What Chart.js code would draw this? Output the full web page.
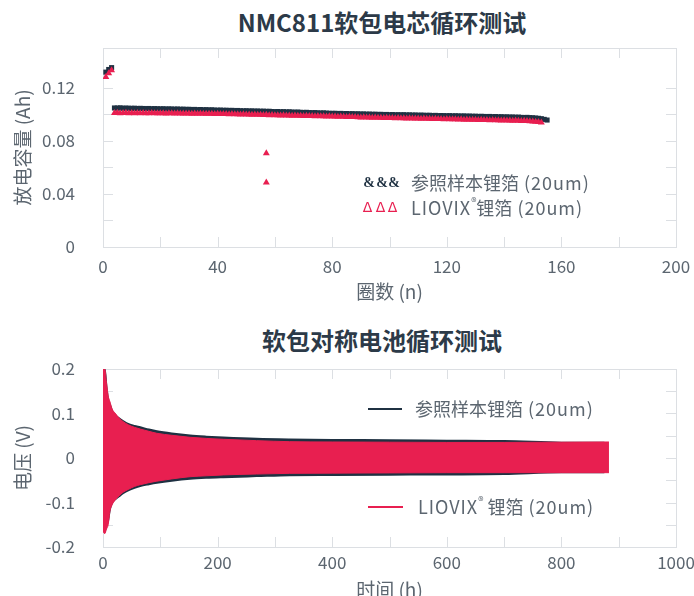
<!DOCTYPE html>
<html>
<head>
<meta charset="utf-8">
<title>NMC811软包电芯循环测试</title>
<script src="https://cdn.jsdelivr.net/npm/chart.js@4"></script>
<style>
  body { margin: 0; background: #fff; width: 694px; height: 596px; overflow: hidden; position: relative; font-family: "Noto Sans CJK SC", sans-serif; }
  .title { position: absolute; left: 182px; width: 400px; text-align: center; font-weight: 700; font-size: 24px; line-height: 30px; color: #2c3a48; }
  canvas { position: absolute; left: 0; }
</style>
</head>
<body>
<div class="title" style="top:7px">NMC811软包电芯循环测试</div>
<div class="title" style="top:325px">软包对称电池循环测试</div>
<canvas id="capChart" width="694" height="305" style="top:0"></canvas>
<canvas id="voltChart" width="694" height="303" style="top:300px"></canvas>
<script>
// ---- top chart: discharge capacity per cycle ----
const formationCycles = [1, 2, 3];
const refFormation = [0.1318, 0.1338, 0.1352];
const liovixFormation = [0.1282, 0.1310, 0.1332];

// values in 0.1 mAh, from cycle 4 on
const refFirstCycle = 4;
const refCapacity = [
  1048,1047,1049,1046,1047,1046,1045,1046,1044,1045,
  1044,1043,1044,1042,1043,1042,1041,1042,1040,1041,
  1040,1039,1040,1038,1039,1037,1038,1036,1037,1035,
  1036,1034,1035,1033,1034,1032,1031,1032,1030,1031,
  1029,1030,1028,1029,1027,1026,1027,1025,1026,1024,
  1025,1023,1024,1022,1023,1021,1020,1021,1019,1020,
  1018,1019,1017,1016,1017,1015,1014,1015,1013,1012,
  1013,1011,1010,1011,1009,1008,1007,1008,1006,1007,
  1005,1006,1004,1005,1003,1004,1002,1003,1001,1002,
  1000,1001,999,1000,998,999,997,998,996,997,
  996,997,995,996,994,995,993,994,993,992,
  993,991,992,990,991,990,989,990,988,989,
  988,987,988,986,987,985,986,984,985,984,
  983,984,982,983,981,982,980,981,979,980,
  978,979,977,976,977,975,974,972,970,967,
  962,957
];
const liovixFirstCycle = 4;
const liovixCapacity = [
  1010,1011,1009,1010,1011,1009,1010,1008,1010,1009,
  1010,1008,1009,1010,1008,1009,1008,1009,1007,1008,
  1008,1007,1008,1006,1007,1006,1007,1005,1006,1005,
  1006,1004,1005,1004,1005,1003,1004,1003,1002,1003,
  1001,1002,1000,1001,999,1000,998,999,997,998,
  996,997,995,996,994,995,993,994,992,993,
  991,992,990,991,989,990,988,989,987,988,
  986,987,985,986,984,985,983,984,982,983,
  981,980,981,979,980,978,977,978,976,977,
  975,976,974,975,973,974,972,973,971,972,
  970,971,969,970,968,969,968,967,968,966,
  967,965,966,964,965,963,964,963,962,963,
  961,962,960,961,959,960,959,958,959,957,
  958,956,957,955,956,954,955,953,954,952,
  953,951,950,951,949,948,946,945,942,939
];
const outlierCycles = [57, 57];
const outlierCapacity = [0.0707, 0.0486];

// ---- bottom chart: symmetric cell voltage envelope ----
const refTime = [0,3,6,9,12,16,21,28,35,45,55,65,80,94,120,152,180,210,268,326,400,500,600,700,800,875];
const refUpper = [0.19,0.2,0.16,0.13,0.12,0.105,0.097,0.089,0.083,0.076,0.072,0.069,0.064,0.06,0.055,0.0505,0.048,0.046,0.043,0.0415,0.0405,0.04,0.039,0.038,0.0345,0.034];
const refLower = [-0.16,-0.165,-0.15,-0.14,-0.115,-0.1,-0.093,-0.086,-0.079,-0.072,-0.067,-0.063,-0.059,-0.0557,-0.051,-0.0467,-0.0445,-0.043,-0.0407,-0.0385,-0.038,-0.0375,-0.037,-0.036,-0.032,-0.032];
const liovixTime = [0,3,6,9,12,16,21,28,35,45,55,65,80,94,120,152,180,210,268,326,400,500,600,700,800,883];
const liovixUpper = [0.2,0.2,0.17,0.14,0.127,0.11,0.101,0.09,0.082,0.074,0.069,0.065,0.06,0.0555,0.051,0.0465,0.044,0.042,0.039,0.0367,0.036,0.0355,0.035,0.035,0.0355,0.036];
const liovixLower = [-0.165,-0.17,-0.16,-0.15,-0.12,-0.105,-0.095,-0.085,-0.077,-0.07,-0.064,-0.06,-0.0555,-0.052,-0.047,-0.042,-0.04,-0.038,-0.036,-0.0345,-0.034,-0.0335,-0.033,-0.033,-0.033,-0.033];

const DARK = '#1f3142';
const RED = '#e81f50';
const TEXT = '#5c6670';
const FRAME = '#dcdfe3';
const FONT = '"Noto Sans CJK SC", sans-serif';

function pts(xs, ys) { return xs.map((x, i) => ({x: x, y: ys[i]})); }

// box frame with inward ticks on all sides
const boxPlugin = {
  id: 'box',
  beforeDatasetsDraw(chart) {
    const {ctx, chartArea: a, scales: {x, y}} = chart;
    const len = 10;
    ctx.save();
    ctx.strokeStyle = FRAME;
    ctx.lineWidth = 1;
    ctx.strokeRect(a.left + 0.5, a.top + 0.5, a.right - a.left, a.bottom - a.top);
    ctx.beginPath();
    x.ticks.forEach(t => {
      if (t.value <= x.min || t.value >= x.max) return;
      const px = Math.round(x.getPixelForValue(t.value)) + 0.5;
      ctx.moveTo(px, a.bottom); ctx.lineTo(px, a.bottom - len);
      ctx.moveTo(px, a.top); ctx.lineTo(px, a.top + len);
    });
    y.ticks.forEach(t => {
      if (t.value <= y.min || t.value >= y.max) return;
      const py = Math.round(y.getPixelForValue(t.value)) + 0.5;
      ctx.moveTo(a.left, py); ctx.lineTo(a.left + len, py);
      ctx.moveTo(a.right, py); ctx.lineTo(a.right - len, py);
    });
    ctx.stroke();
    ctx.restore();
  }
};

// legend drawn as text rows
function textLegend(rows) {
  return {
    id: 'textLegend',
    afterDraw(chart) {
      const ctx = chart.ctx;
      ctx.save();
      ctx.textBaseline = 'middle';
      rows.forEach(r => {
        if (r.line) {
          ctx.strokeStyle = r.color;
          ctx.lineWidth = 2;
          ctx.beginPath();
          ctx.moveTo(r.line[0], r.y);
          ctx.lineTo(r.line[1], r.y);
          ctx.stroke();
        }
        if (r.marks) {
          ctx.fillStyle = r.color;
          ctx.font = r.markFont;
          ctx.textAlign = 'center';
          r.marks.forEach(mx => ctx.fillText(r.mark, mx, r.y));
        }
        ctx.textAlign = 'left';
        ctx.fillStyle = TEXT;
        let x = r.x;
        r.parts.forEach(p => {
          ctx.font = (p.sup ? '11px ' : '18px ') + FONT;
          ctx.letterSpacing = p.wide ? '1px' : '0px';
          ctx.fillText(p.t, x, r.y + (p.sup ? -6 : 0));
          x += ctx.measureText(p.t).width;
        });
      });
      ctx.restore();
    }
  };
}

function xAxis(max, step, labelStep, title, height, pad) {
  return {
    type: 'linear', min: 0, max: max,
    grid: {display: false}, border: {display: false},
    ticks: {
      stepSize: step, color: TEXT, padding: pad, maxRotation: 0, autoSkip: false,
      font: {family: FONT, size: 17},
      callback: v => (Math.round(v) % labelStep === 0 ? String(v) : '')
    },
    title: {display: true, text: title, color: TEXT, font: {family: FONT, size: 19}, padding: {top: 0, bottom: 2}},
    afterFit: s => { s.height = height; s.paddingRight = 0; s.paddingLeft = 0; }
  };
}

function yAxis(min, max, step, labelEvery, title) {
  return {
    min: min, max: max,
    grid: {display: false}, border: {display: false},
    ticks: {
      stepSize: step, color: TEXT, padding: 20, autoSkip: false,
      font: {family: FONT, size: 17},
      callback: v => (Math.round(v * 100) % labelEvery === 0 ? String(+v.toFixed(2)) : '')
    },
    title: {display: true, text: title, color: TEXT, font: {family: FONT, size: 19}, padding: {top: 11, bottom: 0}},
    afterFit: s => { s.width = 103; }
  };
}

const refPoints = pts(formationCycles, refFormation)
  .concat(refCapacity.map((v, i) => ({x: refFirstCycle + i, y: v / 10000})));
const liovixPoints = pts(formationCycles, liovixFormation)
  .concat(liovixCapacity.map((v, i) => ({x: liovixFirstCycle + i, y: v / 10000})))
  .concat(pts(outlierCycles, outlierCapacity));

new Chart(document.getElementById('capChart'), {
  type: 'scatter',
  data: {
    datasets: [{
      label: 'LIOVIX®锂箔 (20um)',
      data: liovixPoints,
      pointStyle: 'triangle', pointRadius: 4, borderWidth: 0,
      backgroundColor: RED, order: 0
    }, {
      label: '参照样本锂箔 (20um)',
      data: refPoints,
      pointStyle: 'rect', pointRadius: 3.6, borderWidth: 0,
      backgroundColor: DARK, order: 1
    }]
  },
  options: {
    responsive: false, animation: false,
    layout: {padding: {top: 48, right: 18, left: 0, bottom: 0}},
    plugins: {legend: {display: false}, tooltip: {enabled: false}},
    scales: {
      x: xAxis(200, 20, 40, '圈数 (n)', 58, 1),
      y: yAxis(0, 0.15, 0.02, 4, '放电容量 (Ah)')
    }
  },
  plugins: [boxPlugin, textLegend([
    {y: 183, x: 411, color: DARK, mark: '&', markFont: 'bold 14px "Liberation Serif"', marks: [369, 382, 394],
     parts: [{t: '参照样本锂箔'}, {t: ' (20um)', wide: true}]},
    {y: 208, x: 411, color: RED, mark: 'Δ', markFont: '14px "DejaVu Sans"', marks: [368, 381, 393],
     parts: [{t: 'LIOVIX', wide: true}, {t: '®', sup: true}, {t: '锂箔'}, {t: ' (20um)', wide: true}]}
  ])]
});

function band(time, vals, color, fillTo, order, width) {
  return {
    data: pts(time, vals), borderColor: color, backgroundColor: color,
    borderWidth: width, pointRadius: 0, cubicInterpolationMode: 'monotone',
    fill: fillTo, order: order
  };
}

new Chart(document.getElementById('voltChart'), {
  type: 'line',
  data: {
    datasets: [
      band(liovixTime, liovixUpper, RED, 1, 0, 1),
      band(liovixTime, liovixLower, RED, false, 0, 1),
      band(refTime, refUpper, DARK, 3, 1, 2),
      band(refTime, refLower, DARK, false, 1, 2)
    ]
  },
  options: {
    responsive: false, animation: false,
    layout: {padding: {top: 69, right: 18, left: 0, bottom: 0}},
    plugins: {legend: {display: false}, tooltip: {enabled: false}},
    scales: {
      x: xAxis(1000, 100, 200, '时间 (h)', 56, -3),
      y: yAxis(-0.2, 0.2, 0.05, 10, '电压 (V)')
    }
  },
  plugins: [boxPlugin, textLegend([
    {y: 109, x: 415, color: DARK, line: [368, 402], parts: [{t: '参照样本锂箔'}, {t: ' (20um)', wide: true}]},
    {y: 207, x: 418, color: RED, line: [368, 403],
     parts: [{t: 'LIOVIX', wide: true}, {t: '®', sup: true}, {t: ' 锂箔'}, {t: ' (20um)', wide: true}]}
  ])]
});
</script>
</body>
</html>
